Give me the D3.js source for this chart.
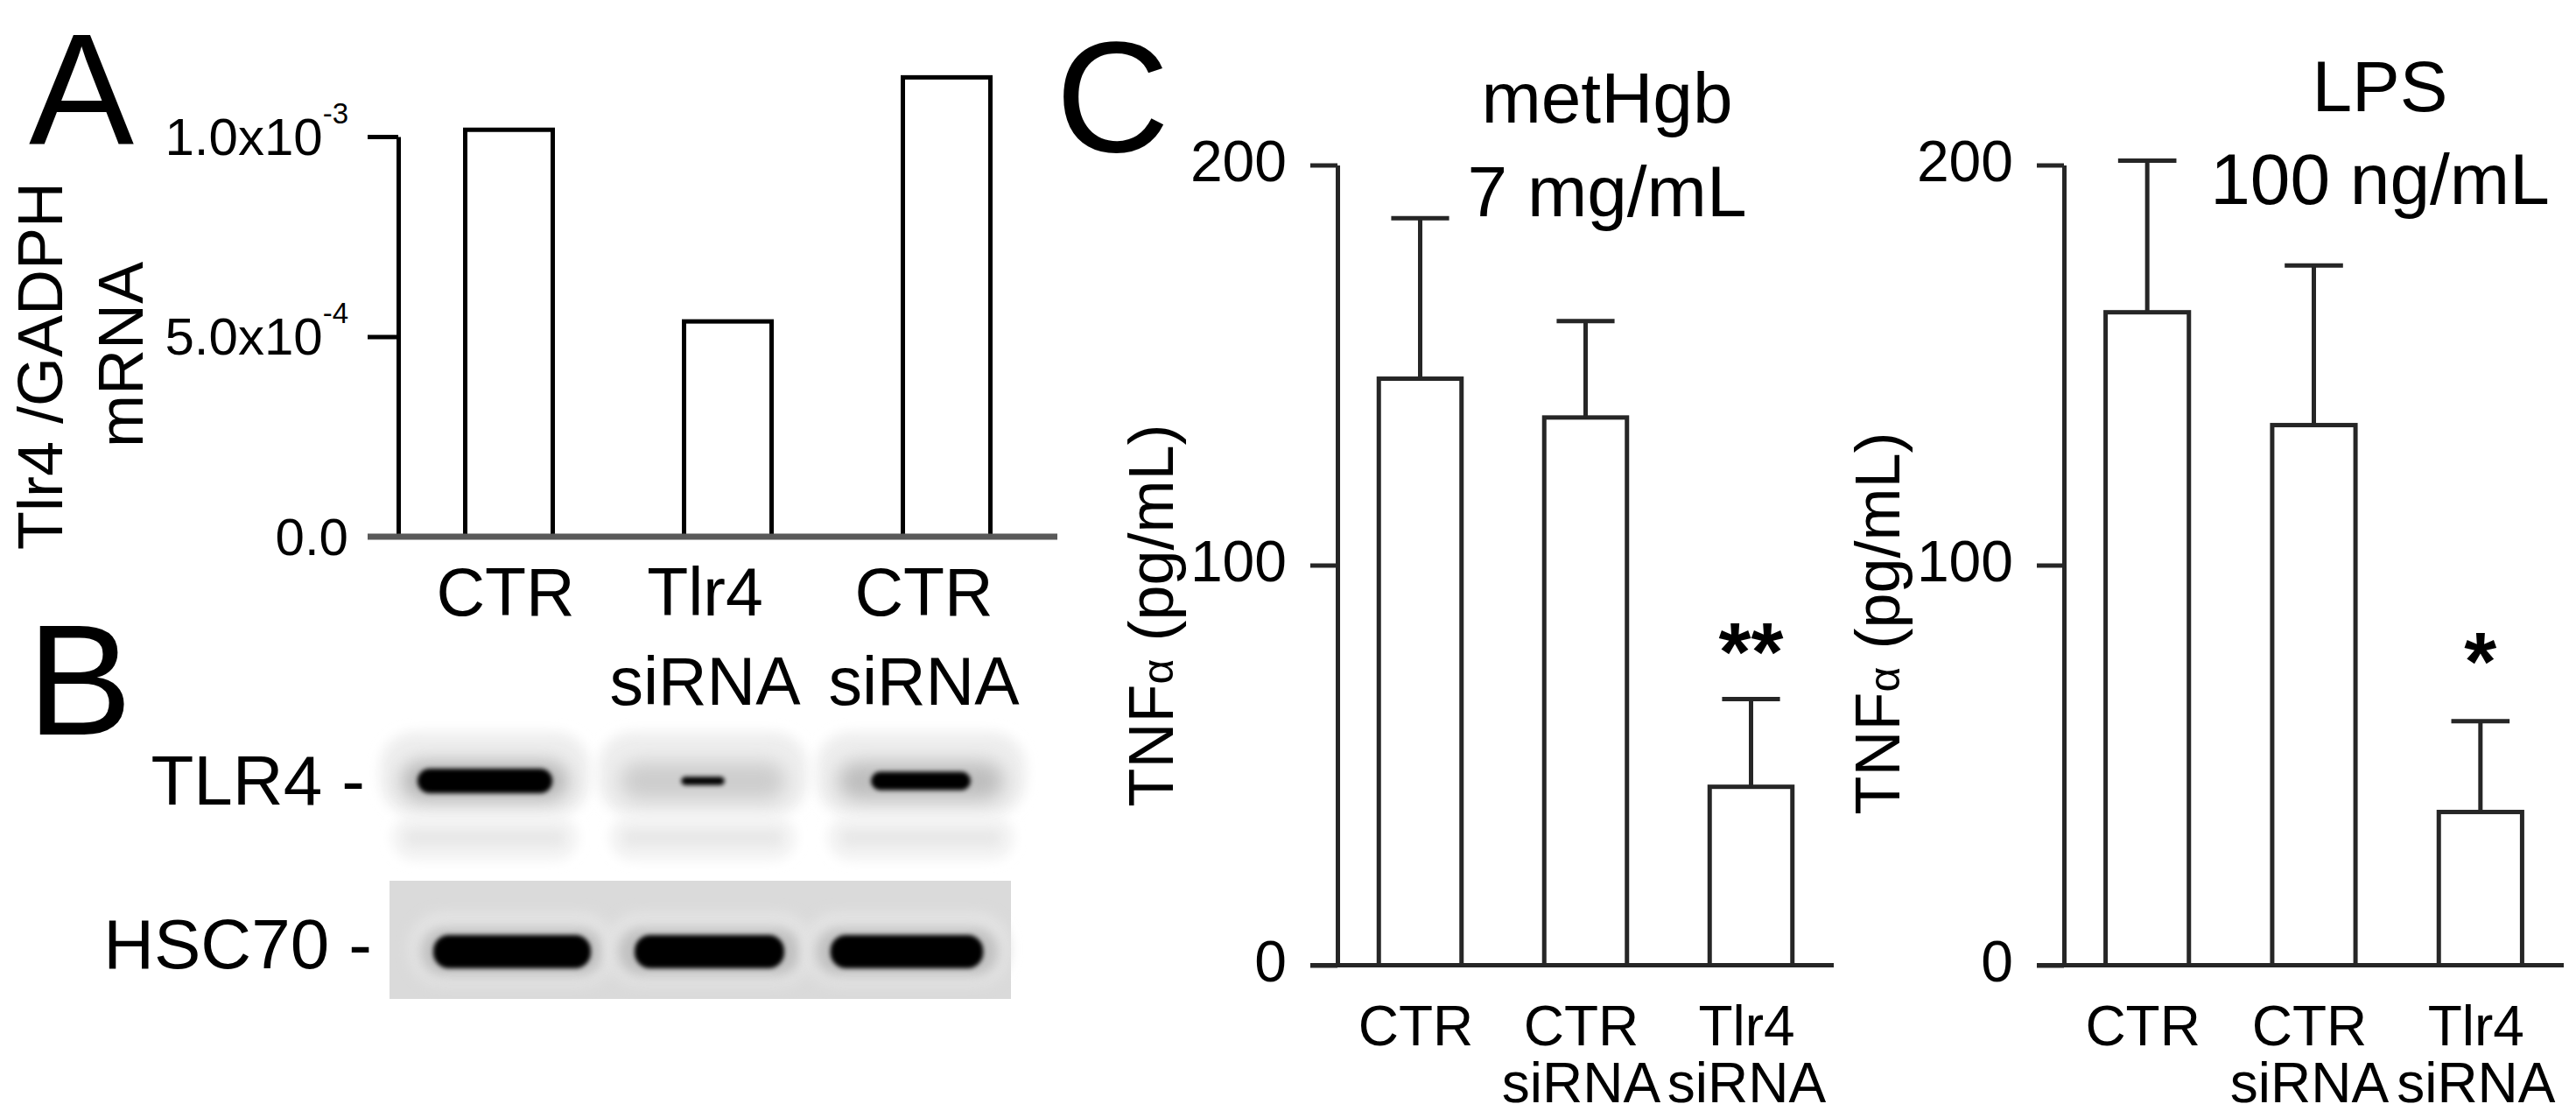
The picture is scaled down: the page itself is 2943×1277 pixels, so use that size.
<!DOCTYPE html>
<html><head><meta charset="utf-8">
<script src="https://cdn.jsdelivr.net/npm/d3@7"></script>
<style>
html,body{margin:0;padding:0;background:#fff;}
svg{display:block;}
</style></head><body>
<svg id="chart" width="2943" height="1277"></svg>
<script>
// ---------- Panel A data: Tlr4/GADPH mRNA ----------
const mrnaCategories = [["CTR"], ["Tlr4", "siRNA"], ["CTR", "siRNA"]];
const mrnaValues = [1.017e-3, 0.538e-3, 1.148e-3];
const mrnaTicks = [0, 5e-4, 1e-3];
const mrnaTickLabels = [["0.0", ""], ["5.0x10", "-4"], ["1.0x10", "-3"]];

// ---------- Panel B data: western blot ----------
const blotLanes = ["CTR", "Tlr4 siRNA", "CTR siRNA"];
const blotProteins = ["TLR4", "HSC70"];
const tlr4Intensity = [1.0, 0.22, 0.7];
const hsc70Intensity = [1.0, 0.95, 0.97];

// ---------- Panel C data: TNFα (pg/mL) ----------
const tnfCategories = [["CTR"], ["CTR", "siRNA"], ["Tlr4", "siRNA"]];
const tnfTicks = [0, 100, 200];
const metHgbTitle = ["metHgb", "7 mg/mL"];
const metHgbMean = [146.6, 136.9, 44.6];
const metHgbSem = [40.1, 24.1, 21.9];
const metHgbSig = ["", "", "**"];
const lpsTitle = ["LPS", "100 ng/mL"];
const lpsMean = [163.2, 135.0, 38.3];
const lpsSem = [37.9, 39.9, 22.7];
const lpsSig = ["", "", "*"];

const FF = '"Liberation Sans", Arial, Helvetica, sans-serif';
const svg = d3.select("#chart");

// panel letters
function panelLetter(t, x, y) {
  svg.append("text").attr("x", x).attr("y", y).attr("font-size", 180)
    .attr("font-family", FF).attr("fill", "#000").text(t);
}
panelLetter("A", 33, 164);
panelLetter("B", 31, 839);
panelLetter("C", 1206, 173);

// ---------------- Panel A ----------------
(function () {
  const keys = mrnaCategories.map(d => d.join(" "));
  const x = d3.scaleBand().domain(keys).range([455, 1208]).paddingInner(0.6).paddingOuter(0.306);
  const y = d3.scaleLinear().domain([0, 1e-3]).range([613, 156]);
  const bw = x.bandwidth();
  const g = svg.append("g");

  g.selectAll("rect.barA").data(mrnaValues).join("rect").attr("class", "barA")
    .attr("x", (d, i) => x(keys[i])).attr("y", d => y(d))
    .attr("width", bw).attr("height", d => y(0) - y(d))
    .attr("fill", "#fff").attr("stroke", "#000").attr("stroke-width", 5);

  const ax = g.append("g").attr("transform", "translate(455,0)")
    .call(d3.axisLeft(y).tickValues(mrnaTicks).tickSize(35).tickSizeOuter(0).tickPadding(22).tickFormat(""))
    .attr("font-family", FF).attr("font-size", null);
  ax.select(".domain").attr("stroke", "#000").attr("stroke-width", 5);
  ax.selectAll(".tick line").attr("stroke", "#000").attr("stroke-width", 5);
  ax.selectAll(".tick text").attr("fill", "#000").attr("font-size", 60).attr("dy", "0.34em")
    .each(function (d) {
      const lab = mrnaTickLabels[mrnaTicks.indexOf(d)];
      const t = d3.select(this);
      t.text(null);
      t.append("tspan").text(lab[0]);
      if (lab[1]) t.append("tspan").attr("font-size", 33).attr("dy", -36).text(lab[1]);
    });

  g.append("line").attr("x1", 455 - 35).attr("x2", 1208).attr("y1", y(0)).attr("y2", y(0))
    .attr("stroke", "#595959").attr("stroke-width", 7);

  // y title
  const yt = [["Tlr4 /GADPH", 71, 418], ["mRNA", 163, 405]];
  yt.forEach(l => {
    g.append("text").attr("transform", `translate(${l[1]},${l[2]}) rotate(-90)`)
      .attr("text-anchor", "middle").attr("font-size", 72).attr("font-family", FF)
      .attr("fill", "#000").text(l[0]);
  });

  // x labels
  mrnaCategories.forEach((lines, i) => {
    const cx = x(keys[i]) + bw / 2 + (lines.length > 1 ? -26 : -4);
    lines.forEach((l, j) => {
      g.append("text").attr("x", cx).attr("y", 703 + j * 102).attr("text-anchor", "middle")
        .attr("font-size", 77).attr("font-family", FF).attr("fill", "#000").text(l);
    });
  });
})();

// ---------------- Panel B (blot) ----------------
(function () {
  const defs = svg.append("defs");
  [["blur2", 2.5], ["blur4", 4], ["blur7", 7], ["blur11", 11]].forEach(f => {
    defs.append("filter").attr("id", f[0]).attr("x", "-50%").attr("y", "-50%")
      .attr("width", "200%").attr("height", "200%")
      .append("feGaussianBlur").attr("stdDeviation", f[1]);
  });
  const g = svg.append("g");
  const tlrX = d3.scalePoint().domain(blotLanes).range([554, 1052]);
  const hscX = d3.scalePoint().domain(blotLanes).range([585, 1036]);
  const coreW = d3.scaleLinear().domain([0, 1]).range([20, 154]);
  const coreH = d3.scaleLinear().domain([0, 1]).range([4, 28]);
  const haloOp = d3.scaleLinear().domain([0, 1]).range([0.3, 0.7]);

  // TLR4 membrane halos
  blotLanes.forEach((lane, i) => {
    const cx = tlrX(lane);
    g.append("rect").attr("x", cx - 120).attr("y", 836).attr("width", 240).attr("height", 96)
      .attr("rx", 40).attr("fill", "#eeeeee").attr("filter", "url(#blur7)");
    g.append("rect").attr("x", cx - 106).attr("y", 932).attr("width", 212).attr("height", 50)
      .attr("rx", 25).attr("fill", "#f1f1f1").attr("filter", "url(#blur7)");
    g.append("rect").attr("x", cx - 90).attr("y", 948).attr("width", 180).attr("height", 18)
      .attr("rx", 9).attr("fill", "#e9e9e9").attr("filter", "url(#blur4)");
  });
  // TLR4 bands
  tlr4Intensity.forEach((v, i) => {
    const cx = tlrX(blotLanes[i]);
    g.append("rect").attr("x", cx - 95).attr("y", 870).attr("width", 190).attr("height", 44)
      .attr("rx", 22).attr("fill", "#9a9a9a").attr("opacity", haloOp(v)).attr("filter", "url(#blur11)");
    g.append("rect").attr("x", cx - coreW(v) / 2).attr("y", 892 - coreH(v) / 2)
      .attr("width", coreW(v)).attr("height", coreH(v)).attr("rx", coreH(v) / 2)
      .attr("fill", "#000").attr("filter", "url(#blur2)");
  });

  // HSC70 membrane
  g.append("rect").attr("x", 445).attr("y", 1006).attr("width", 710).attr("height", 135).attr("fill", "#dadada");
  hsc70Intensity.forEach((v, i) => {
    const cx = hscX(blotLanes[i]);
    g.append("rect").attr("x", cx - 118).attr("y", 1042).attr("width", 236).attr("height", 84)
      .attr("rx", 40).attr("fill", "#e4e4e4").attr("filter", "url(#blur7)");
    g.append("rect").attr("x", cx - 104).attr("y", 1060).attr("width", 208).attr("height", 54)
      .attr("rx", 26).attr("fill", "#a8a8a8").attr("opacity", 0.6).attr("filter", "url(#blur7)");
    g.append("rect").attr("x", cx - 90 * v).attr("y", 1068).attr("width", 180 * v).attr("height", 38)
      .attr("rx", 18).attr("fill", "#000").attr("filter", "url(#blur2)");
  });

  // protein labels
  const labY = { "TLR4": [417, 919], "HSC70": [425, 1106] };
  blotProteins.forEach(p => {
    g.append("text").attr("x", labY[p][0]).attr("y", labY[p][1]).attr("text-anchor", "end")
      .attr("font-size", 80).attr("font-family", FF).attr("fill", "#000").text(p + " -");
  });
})();

// ---------------- Panel C ----------------
function tnfPanel(o) {
  const keys = tnfCategories.map(d => d.join(" "));
  const x = d3.scaleBand().domain(keys).range([o.axisX, o.endX]).paddingInner(0.5).paddingOuter(0.25);
  const y = d3.scaleLinear().domain([0, 200]).range([1102.5, 188.5]);
  const bw = x.bandwidth();
  const g = svg.append("g");
  const LC = "#262626";

  g.selectAll("rect.barC").data(o.mean).join("rect").attr("class", "barC")
    .attr("x", (d, i) => x(keys[i])).attr("y", d => y(d))
    .attr("width", bw).attr("height", d => y(0) - y(d))
    .attr("fill", "#fff").attr("stroke", LC).attr("stroke-width", 5);

  g.selectAll("line.err").data(o.mean).join("line").attr("class", "err")
    .attr("x1", (d, i) => x(keys[i]) + bw / 2).attr("x2", (d, i) => x(keys[i]) + bw / 2)
    .attr("y1", d => y(d)).attr("y2", (d, i) => y(d + o.sem[i]))
    .attr("stroke", LC).attr("stroke-width", 5);
  g.selectAll("line.cap").data(o.mean).join("line").attr("class", "cap")
    .attr("x1", (d, i) => x(keys[i]) + bw / 2 - bw * 0.35).attr("x2", (d, i) => x(keys[i]) + bw / 2 + bw * 0.35)
    .attr("y1", (d, i) => y(d + o.sem[i])).attr("y2", (d, i) => y(d + o.sem[i]))
    .attr("stroke", LC).attr("stroke-width", 5);

  g.selectAll("text.sig").data(o.sig).join("text").attr("class", "sig")
    .attr("x", (d, i) => x(keys[i]) + bw / 2).attr("y", (d, i) => y(o.mean[i] + o.sem[i]) - o.sigGap)
    .attr("text-anchor", "middle").attr("font-size", 95).attr("font-weight", "bold")
    .attr("font-family", FF).attr("fill", "#000").text(d => d);

  const ax = g.append("g").attr("transform", `translate(${o.axisX},0)`)
    .call(d3.axisLeft(y).tickValues(tnfTicks).tickSize(31).tickSizeOuter(0).tickPadding(27))
    .attr("font-family", FF).attr("font-size", null);
  ax.select(".domain").attr("stroke", LC).attr("stroke-width", 5);
  ax.selectAll(".tick line").attr("stroke", LC).attr("stroke-width", 5);
  ax.selectAll(".tick text").attr("fill", "#000").attr("font-size", 66).attr("dy", "0.27em");

  g.append("line").attr("x1", o.axisX - 31).attr("x2", o.endX).attr("y1", y(0)).attr("y2", y(0))
    .attr("stroke", LC).attr("stroke-width", 5);

  tnfCategories.forEach((lines, i) => {
    const cx = x(keys[i]) + bw / 2 - 5;
    lines.forEach((l, j) => {
      g.append("text").attr("x", cx).attr("y", 1194 + j * 65).attr("text-anchor", "middle")
        .attr("font-size", 64).attr("font-family", FF).attr("fill", "#000").text(l);
    });
  });

  o.title.forEach((t, j) => {
    g.append("text").attr("x", o.titleX).attr("y", o.titleY[j]).attr("text-anchor", "middle")
      .attr("font-size", 82).attr("font-family", FF).attr("fill", "#000").text(t);
  });

  const yt = g.append("text").attr("transform", `translate(${o.axisX - 188},${o.ytitleY}) rotate(-90)`)
    .attr("text-anchor", "middle").attr("font-size", 72).attr("font-family", FF).attr("fill", "#000");
  yt.append("tspan").text("TNF");
  yt.append("tspan").attr("font-size", 50).text("α");
  yt.append("tspan").text(" (pg/mL)");
}

tnfPanel({ axisX: 1528, endX: 2095, mean: metHgbMean, sem: metHgbSem, sig: metHgbSig, sigGap: 22,
  title: metHgbTitle, titleX: 1836, titleY: [140, 247], ytitleY: 703 });
tnfPanel({ axisX: 2358, endX: 2929, mean: lpsMean, sem: lpsSem, sig: lpsSig, sigGap: 36,
  title: lpsTitle, titleX: 2719, titleY: [127, 233], ytitleY: 712 });
</script>
</body></html>
